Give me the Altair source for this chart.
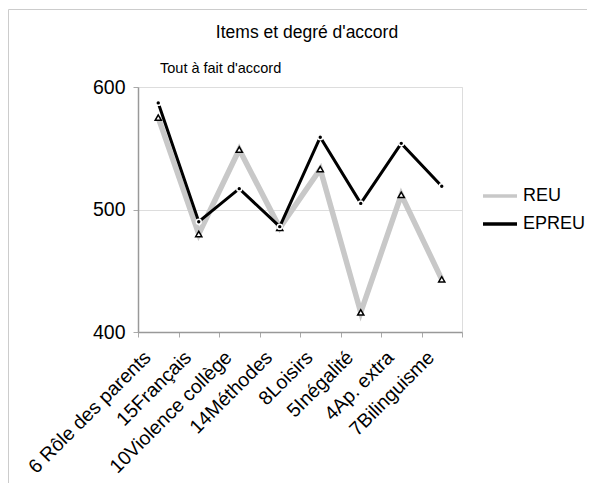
import altair as alt
import pandas as pd

categories = ["6 Rôle des parents", "15Français", "10Violence collège", "14Méthodes",
              "8Loisirs", "5Inégalité", "4Ap. extra", "7Bilinguisme"]
reu = [575, 480, 549, 485, 533, 416, 512, 443]
epreu = [587, 490, 517, 486, 559, 505, 554, 519]
series = ["REU", "EPREU"]
y_ticks = [400, 500, 600]

rows = []
for s, vals in zip(series, [reu, epreu]):
    for c, v in zip(categories, vals):
        rows.append({"item": c, "serie": s, "valeur": v})
df = pd.DataFrame(rows)

FONT = "Liberation Sans"

x_enc = alt.X("item:N", sort=categories, title=None,
              scale=alt.Scale(type="band", paddingInner=0, paddingOuter=0),
              axis=alt.Axis(labelAngle=-45, labelAlign="right", labelBaseline="middle",
                            labelFontSize=19.5, labelFont=FONT, labelColor="#000",
                            labelOffset=-11, labelPadding=17, tickBand="extent",
                            tickSize=5, tickColor="#aaaaaa", domainColor="#999999",
                            domainWidth=1.5, grid=False))
y_enc = alt.Y("valeur:Q", title=None,
              scale=alt.Scale(domain=[400, 600], nice=False, zero=False),
              axis=alt.Axis(values=y_ticks, labelFontSize=19.5, labelFont=FONT,
                            labelColor="#000", labelPadding=8, tickSize=5,
                            tickColor="#aaaaaa", domainColor="#999999", domainWidth=1.5,
                            gridColor="#dddddd", gridWidth=1))
color_enc = alt.Color("serie:N",
                      scale=alt.Scale(domain=series, range=["#c8c8c8", "#000000"]),
                      legend=alt.Legend(title=None, orient="none", legendX=343, legendY=90,
                                        symbolType="stroke", symbolSize=1156,
                                        symbolStrokeWidth=3.5, labelFontSize=18,
                                        labelFont=FONT, labelColor="#000", rowPadding=-2,
                                        labelOffset=4))

base = alt.Chart(df)

line_reu = base.transform_filter(alt.datum.serie == "REU").mark_line(strokeWidth=5.5).encode(
    x=x_enc, y=y_enc, color=color_enc)
line_ep = base.transform_filter(alt.datum.serie == "EPREU").mark_line(strokeWidth=3).encode(
    x=x_enc, y=y_enc, color=color_enc)

pts_reu = base.transform_filter(alt.datum.serie == "REU").mark_point(
    shape="triangle-up", size=38, filled=True, fill="white", stroke="black",
    strokeWidth=1.5, opacity=1).encode(x=x_enc, y=y_enc)
pts_ep = base.transform_filter(alt.datum.serie == "EPREU").mark_point(
    shape="circle", size=24, filled=True, fill="black", stroke="white",
    strokeWidth=1.5, opacity=1).encode(x=x_enc, y=y_enc)

title_txt = alt.Chart(pd.DataFrame({"t": ["Items et degré d'accord"]})).mark_text(
    font=FONT, fontSize=17.5, align="center", baseline="alphabetic", color="#000").encode(
    text="t:N", x=alt.value(169), y=alt.value(-49))
sub_txt = alt.Chart(pd.DataFrame({"t": ["Tout à fait d'accord"]})).mark_text(
    font=FONT, fontSize=14.5, align="left", baseline="alphabetic", color="#000").encode(
    text="t:N", x=alt.value(22), y=alt.value(-14))

border_top = alt.Chart(pd.DataFrame({"a": [0]})).mark_rule(color="#cccccc", strokeWidth=1).encode(
    x=alt.value(-129.5), x2=alt.value(460), y=alt.value(-77.5))
border_left = alt.Chart(pd.DataFrame({"a": [0]})).mark_rule(color="#cccccc", strokeWidth=1).encode(
    x=alt.value(-129.5), y=alt.value(-77.5), y2=alt.value(420))

chart = alt.layer(border_top, border_left, line_reu, line_ep, pts_reu, pts_ep,
                  title_txt, sub_txt).properties(
    width=324, height=245,
    autosize=alt.AutoSizeParams(type="none"),
    padding={"left": 130, "top": 79, "right": 125, "bottom": 151},
).configure_view(stroke="#a6a6a6", strokeWidth=1.5).configure(background="white")

chart.save("out.html", embed_options={"renderer": "svg", "actions": False})
